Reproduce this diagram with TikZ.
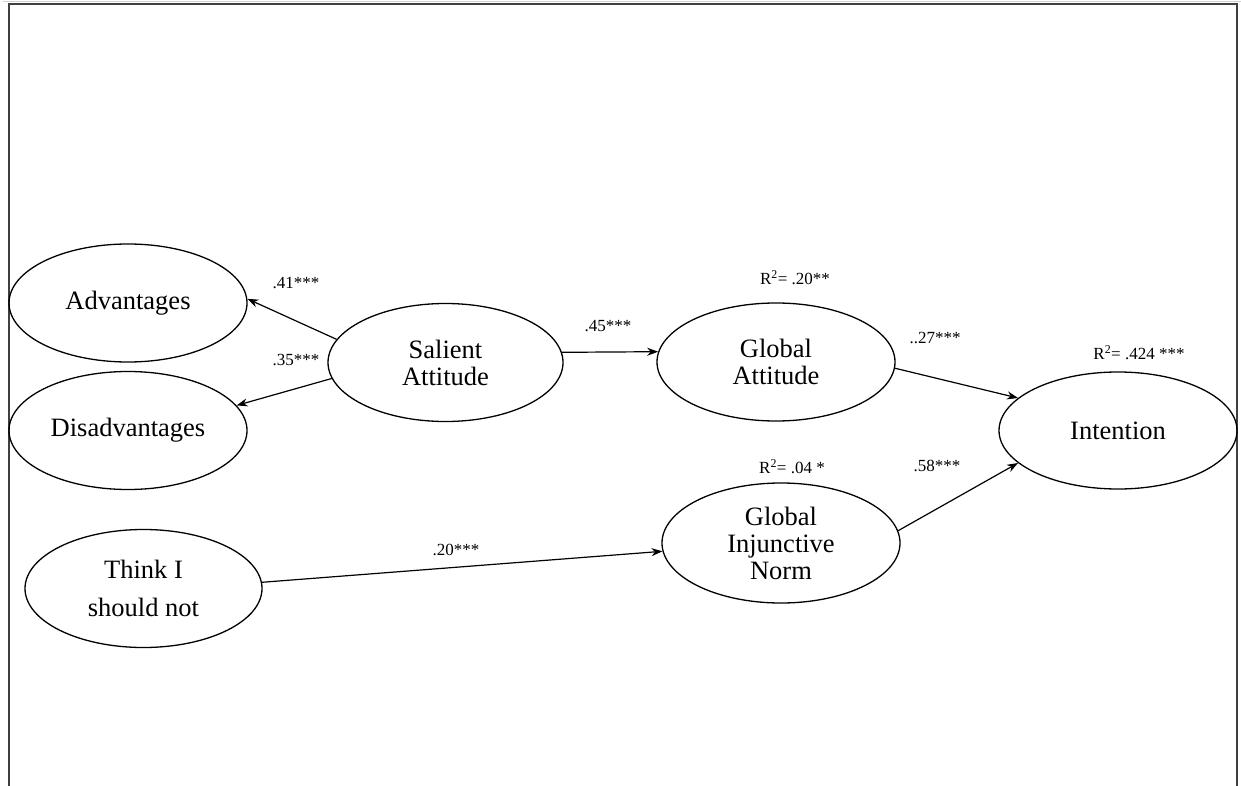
\documentclass[tikz,border=0pt]{standalone}
\usepackage{fontspec}
\setmainfont{Liberation Serif}
\usetikzlibrary{shapes.geometric,arrows.meta}
\tikzset{
  lat/.style={ellipse,draw=black,line width=1.3pt,minimum width=238pt,minimum height=118pt,inner sep=0pt,align=center,font=\fontsize{26.5}{27}\selectfont},
  arr/.style={line width=1.2pt,-{Stealth[length=11pt,width=8pt]}},
  lbl/.style={font=\fontsize{17}{19}\selectfont,inner sep=0pt},
  frame/.style={draw=black!75,line width=2pt}
}
\begin{document}
\begin{tikzpicture}[x=1pt,y=-1pt]
\useasboundingbox (0,0) rectangle (1241,786);
\fill[white] (0,0) rectangle (1241,786);
\draw[black!18,line width=1pt] (3,2) -- (1241,2);
\draw[frame] (9,786) -- (9,4.5) -- (1237,4.5) -- (1237,786);

\node[lat] (adv) at (128,303) {Advantages};
\node[lat] (dis) at (128,430.5) {Disadvantages};
\node[lat,minimum width=235pt] (sal) at (445.5,362.5) {Salient\\Attitude};
\node[lat] (ga) at (776,362) {Global\\Attitude};
\node[lat,minimum height=120pt] (gin) at (781,543) {Global\\Injunctive\\Norm};
\node[lat,minimum width=237pt] (th) at (143.5,588.5) {Think I\\[11pt]should not};
\node[lat,minimum height=117pt] (int) at (1118,430.5) {Intention};

\draw[arr] (sal.168) -- (adv.2);
\draw[arr] (sal.188) -- (dis.13);
\draw[arr] (sal.5) -- (ga.175);
\draw[arr] (ga.-3) -- (int.162);
\draw[arr] (gin.6) -- (int.198);
\draw[arr] (th.3) -- (gin.184);

\node[lbl] (l41) at (296,283) {.41***};
\node[lbl] (l35) at (296,360) {.35***};
\node[lbl] (l45) at (608,326) {.45***};
\node[lbl] (r20) at (795,278) {R\textsuperscript{2}= .20**};
\node[lbl] (l27) at (935,338) {..27***};
\node[lbl] (r424) at (1139,353) {R\textsuperscript{2}= .424 ***};
\node[lbl] (r04) at (792,467) {R\textsuperscript{2}= .04 *};
\node[lbl] (l58) at (937,466) {.58***};
\node[lbl] (l20) at (456,550) {.20***};
\end{tikzpicture}
\end{document}
